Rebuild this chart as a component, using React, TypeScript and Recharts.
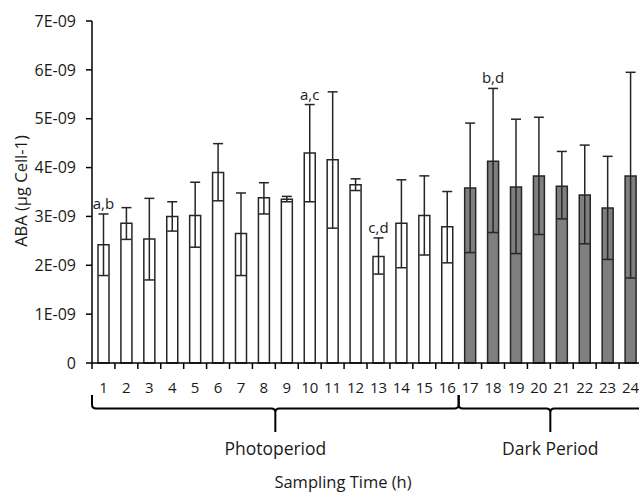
import React from "react";
import { BarChart, Bar, Cell, XAxis, YAxis, ErrorBar, ReferenceDot } from "recharts";

// ABA per cell, in units of 1E-09 µg
const HOURS = ["1", "2", "3", "4", "5", "6", "7", "8", "9", "10", "11", "12", "13", "14", "15", "16", "17", "18", "19", "20", "21", "22", "23", "24"];
const ABA_MEAN = [2.42, 2.86, 2.54, 3.0, 3.02, 3.9, 2.65, 3.38, 3.35, 4.3, 4.16, 3.65, 2.18, 2.86, 3.02, 2.79, 3.58, 4.13, 3.6, 3.83, 3.62, 3.44, 3.17, 3.83];
const ABA_UPPER = [3.05, 3.18, 3.37, 3.3, 3.7, 4.49, 3.48, 3.69, 3.41, 5.29, 5.55, 3.77, 2.56, 3.75, 3.83, 3.51, 4.91, 5.62, 4.99, 5.03, 4.33, 4.46, 4.23, 5.95];
const ABA_LOWER = [1.79, 2.53, 1.7, 2.7, 2.37, 3.32, 1.79, 3.05, 3.3, 3.3, 2.76, 3.53, 1.82, 1.95, 2.21, 2.05, 2.26, 2.67, 2.24, 2.63, 2.95, 2.44, 2.12, 1.74];
const Y_TICKS = [0, 1, 2, 3, 4, 5, 6, 7];
const DARK_START = 17;

const PERIODS = [
  { label: "Photoperiod", first: "1", count: 16 },
  { label: "Dark Period", first: "17", count: 8 },
];

const LETTERS = [
  { hour: "1", text: "a,b" },
  { hour: "10", text: "a,c" },
  { hour: "13", text: "c,d" },
  { hour: "18", text: "b,d" },
];

const FONT = "'Open Sans', sans-serif";
const INK = "#1a1a1a";

const chartData = HOURS.map((hour, i) => ({
  hour,
  aba: ABA_MEAN[i],
  err: [ABA_MEAN[i] - ABA_LOWER[i], ABA_UPPER[i] - ABA_MEAN[i]],
}));

const bracePath = (l: number, r: number, yTop: number, yb: number, yTip: number) => {
  const m = (l + r) / 2;
  const c = 4;
  return (
    `M${l},${yTop} L${l},${yb - c} Q${l},${yb} ${l + c},${yb} L${m - c},${yb} Q${m},${yb} ${m},${yb + c} L${m},${yTip} ` +
    `M${m},${yb + c} Q${m},${yb} ${m + c},${yb} L${r - c},${yb} Q${r},${yb} ${r},${yb - c} L${r},${yTop}`
  );
};

const HourTick = (props: any) => {
  const { x, y, payload, index } = props;
  const half = payload && payload.offset ? payload.offset : 550 / 48;
  const left = x - half;
  const period = PERIODS.find((p) => p.first === payload.value);
  return (
    <g>
      <line x1={left} y1={y} x2={left} y2={y + 6} stroke="#000" strokeWidth={1.5} />
      {index === HOURS.length - 1 && (
        <line x1={x + half} y1={y} x2={x + half} y2={y + 6} stroke="#000" strokeWidth={1.5} />
      )}
      <text x={x} y={y + 24} textAnchor="middle" dominantBaseline="central" fontSize={15} fontFamily={FONT} fill={INK}>
        {payload.value}
      </text>
      {period && (
        <g>
          <path
            d={bracePath(left, left + period.count * half * 2, y + 32, y + 45.5, y + 69)}
            fill="none"
            stroke="#000"
            strokeWidth={2}
          />
          <text
            x={left + period.count * half}
            y={y + 85}
            textAnchor="middle"
            dominantBaseline="central"
            fontSize={17.5}
            fontFamily={FONT}
            fill={INK}
          >
            {period.label}
          </text>
        </g>
      )}
    </g>
  );
};

export default function App() {
  return (
    <div style={{ position: "absolute", left: 0, top: 0, width: 639, height: 493, overflow: "hidden", background: "#fff" }}>
      <BarChart width={670} height={493} data={chartData} margin={{ top: 21, right: 28, left: 0, bottom: 0 }}>
        <XAxis
          dataKey="hour"
          height={130}
          interval={0}
          tickLine={false}
          tickSize={0}
          tickMargin={0}
          axisLine={{ stroke: "#000", strokeWidth: 1.5 }}
          tick={<HourTick />}
          label={{
            content: (p: any) => (
              <text
                x={343}
                y={p.viewBox.y + 118}
                textAnchor="middle"
                dominantBaseline="central"
                fontSize={16.5}
                fontFamily={FONT}
                fill={INK}
              >
                Sampling Time (h)
              </text>
            ),
          }}
        />
        <YAxis
          width={92}
          domain={[0, 7]}
          ticks={Y_TICKS}
          interval={0}
          tickSize={6}
          tickMargin={10}
          tickFormatter={(v: number) => (v === 0 ? "0" : `${v}E-09`)}
          tick={{ fontSize: 16, fontFamily: FONT, fill: INK }}
          axisLine={{ stroke: "#000", strokeWidth: 1.5 }}
          tickLine={{ stroke: "#000", strokeWidth: 1.5 }}
          label={{
            content: (p: any) => {
              const cy = p.viewBox.y + p.viewBox.height / 2 - 1;
              return (
                <text
                  x={20}
                  y={cy}
                  transform={`rotate(-90 20 ${cy})`}
                  textAnchor="middle"
                  dominantBaseline="central"
                  fontSize={16.5}
                  fontFamily={FONT}
                  fill={INK}
                >
                  ABA (µg Cell-1)
                </text>
              );
            },
          }}
        />
        <Bar dataKey="aba" barSize={11} stroke="#262626" strokeWidth={1.5} isAnimationActive={false}>
          {chartData.map((d, i) => (
            <Cell key={`cell-${i}`} fill={Number(d.hour) >= DARK_START ? "#7f7f7f" : "#ffffff"} />
          ))}
          <ErrorBar dataKey="err" width={5} stroke="#262626" strokeWidth={1.5} direction="y" isAnimationActive={false} />
        </Bar>
        {LETTERS.map((l) => (
          <ReferenceDot
            key={l.text}
            x={l.hour}
            y={ABA_UPPER[HOURS.indexOf(l.hour)]}
            r={0}
            stroke="none"
            fill="none"
            ifOverflow="visible"
            label={{ value: l.text, position: "top", offset: 5, fontSize: 15, fontFamily: FONT, fill: INK }}
          />
        ))}
      </BarChart>
    </div>
  );
}
